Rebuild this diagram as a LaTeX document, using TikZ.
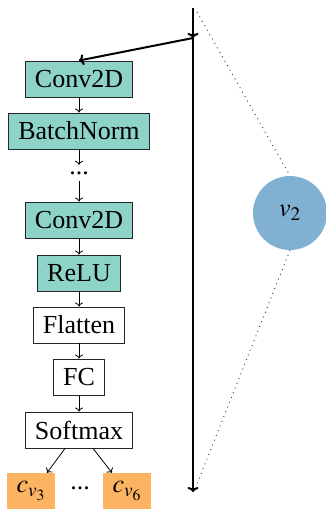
\documentclass[tikz,border=0pt]{standalone}
\usepackage{mathptmx}
\usepackage{fontspec}
\setmainfont{Liberation Serif}
\usetikzlibrary{arrows.meta,calc}
\definecolor{setteal}{HTML}{8DD3C7}
\definecolor{setorange}{HTML}{FDB462}
\definecolor{setblue}{HTML}{80B1D3}
\begin{document}
\begin{tikzpicture}[x=1pt,y=-1pt,
  layer/.style={draw=black!85,line width=0.9pt,minimum height=36pt,inner xsep=9.5pt,inner ysep=0pt,
    font=\fontsize{26}{30}\selectfont},
  convlayer/.style={layer,fill=setteal},
  plainlayer/.style={layer,fill=white},
  outbox/.style={fill=setorange,minimum width=48pt,minimum height=36pt,inner sep=0pt,
    font=\fontsize{26}{30}\selectfont},
  gap/.style={inner sep=0pt,minimum height=16pt,font=\fontsize{26}{30}\selectfont},
  flow/.style={line width=0.8pt,-{To[length=4pt,width=8pt]}},
  bigflow/.style={line width=2pt,-{To[length=5pt,width=11pt]}},
  link/.style={black!75,line width=1pt,dash pattern=on 0.9pt off 4.2pt}]
\useasboundingbox (0,0) rectangle (326,509);

% layer stack
\node[convlayer]  (c1)   at (79,79)  {Conv2D};
\node[convlayer]  (bn)   at (79,131) {BatchNorm};
\node[gap]        (d1)   at (79,173) {...};
\node[convlayer]  (c2)   at (79,220) {Conv2D};
\node[convlayer]  (relu) at (79,273) {ReLU};
\node[plainlayer] (fl)   at (79,325) {Flatten};
\node[plainlayer] (fc)   at (79,377) {FC};
\node[plainlayer] (sm)   at (79,430) {Softmax};

% outputs
\node[outbox] (o3) at (31,491)  {$c_{v_3}$};
\node[gap]    (d2) at (80,488)  {...};
\node[outbox] (o6) at (127,491) {$c_{v_6}$};

% node on the right
\node[circle,fill=setblue,minimum size=74pt,inner sep=0pt,font=\fontsize{26}{30}\selectfont]
  (v) at (290,213) {$v_2$};

% main vertical line
\coordinate (top) at (193,8);
\coordinate (mid) at (193,38);
\coordinate (bot) at (193,492);
\coordinate (dtop) at (197,12);
\coordinate (dbot) at (197,484);

\draw[bigflow] (top) -- (mid);
\draw[bigflow] (mid) -- (bot);
\draw[bigflow] (mid) -- (c1.north);

% dotted links to the circle
\draw[link] (dtop) -- (v.north);
\draw[link] (v.south) -- (dbot);

% flow through the stack
\draw[flow] (c1) -- (bn);
\draw[flow] (bn) -- (d1);
\draw[flow] (d1) -- (c2);
\draw[flow] (c2) -- (relu);
\draw[flow] (relu) -- (fl);
\draw[flow] (fl) -- (fc);
\draw[flow] (fc) -- (sm);
\draw[flow] ([xshift=-14pt]sm.south) -- ([xshift=16pt]o3.north);
\draw[flow] ([xshift=14pt]sm.south) -- ([xshift=-15pt]o6.north);
\end{tikzpicture}
\end{document}
